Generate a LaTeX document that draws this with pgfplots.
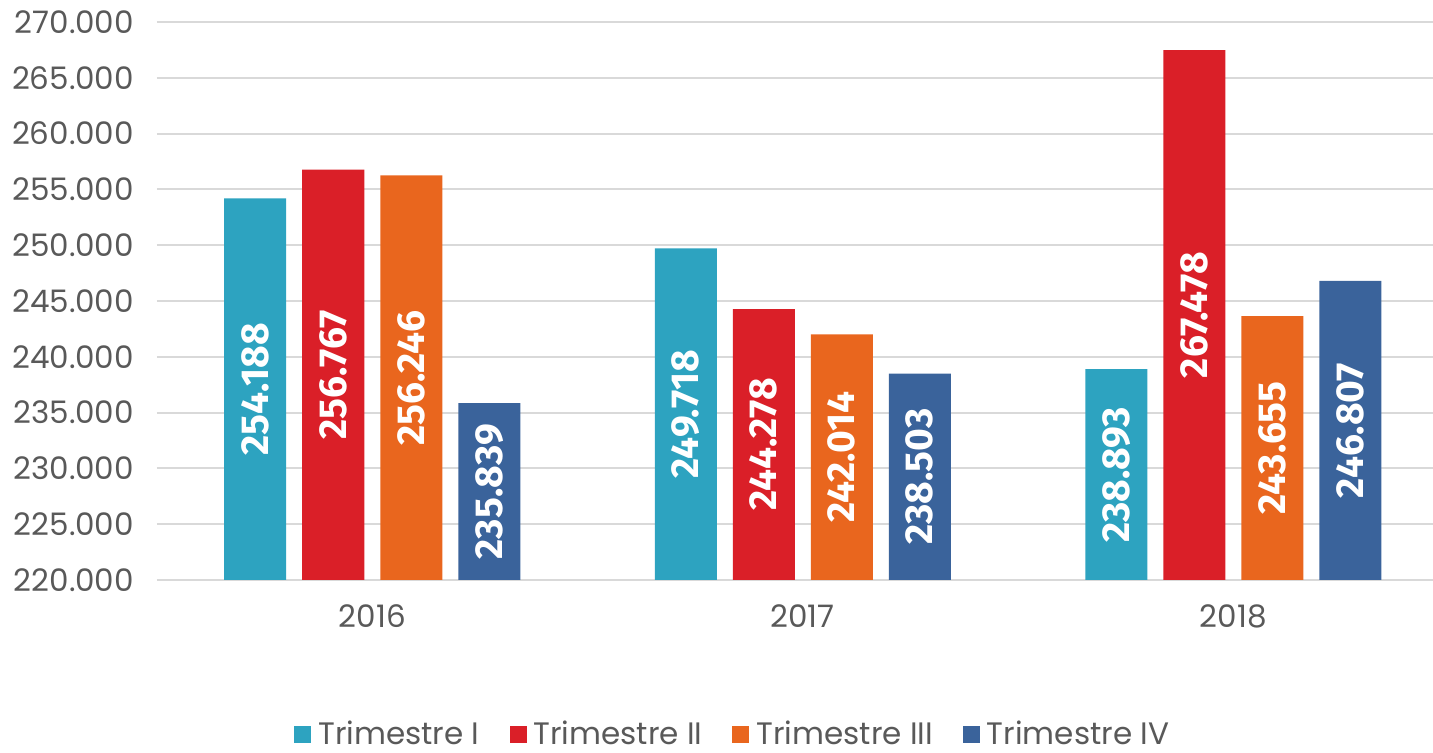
\documentclass[border=0pt]{standalone}
\usepackage{fontspec}
\setmainfont{Poppins}
\newfontfamily\lblfont{Fira Sans}
\usepackage{pgfplots}
\usepackage{pgfplotstable}
\pgfplotsset{compat=1.18}
\definecolor{cI}{HTML}{2DA3C0}
\definecolor{cII}{HTML}{DA1F28}
\definecolor{cIII}{HTML}{E9661E}
\definecolor{cIV}{HTML}{3A639B}
\definecolor{gridgray}{HTML}{D9D9D9}
\definecolor{tickgray}{HTML}{595959}
\pgfplotstableread{
x v l
0 254188 254.188
1 249718 249.718
2 238893 238.893
}\tI
\pgfplotstableread{
x v l
0 256767 256.767
1 244278 244.278
2 267478 267.478
}\tII
\pgfplotstableread{
x v l
0 256246 256.246
1 242014 242.014
2 243655 243.655
}\tIII
\pgfplotstableread{
x v l
0 235839 235.839
1 238503 238.503
2 246807 246.807
}\tIV
\begin{document}
\begin{tikzpicture}
\useasboundingbox (-78.5pt,-86.5pt) rectangle (638pt,290pt);
\begin{axis}[
  at={(0,0)}, anchor=south west,
  scale only axis, width=638pt, height=279pt,
  xmin=-0.5, xmax=2.464, ymin=220000, ymax=270000,
  ytick={220000,225000,...,270000},
  xtick={0,1,2}, xticklabels={2016,2017,2018},
  axis line style={draw=none}, major tick length=0pt,
  ymajorgrids, grid style={color=gridgray, line width=1pt},
  tick label style={font=\fontsize{15.5}{18}\selectfont, text=tickgray},
  yticklabel style={xshift=-8pt},
  xticklabel style={yshift=-9pt},
  scaled y ticks=false,
  yticklabel={\pgfmathprintnumber[fixed,precision=0,1000 sep={.},assume math mode=true]{\tick}},
  legend style={at={(0.452,-0.277)}, anchor=center, draw=none, legend columns=4,
    font=\fontsize{15.5}{18}\selectfont, text=tickgray,
    /tikz/every even column/.append style={column sep=13pt}},
  legend image code/.code={\fill[#1] (0pt,-4.25pt) rectangle (8.5pt,4.25pt); \path (10pt,0pt);},
  every node near coord/.append style={text=white, font=\lblfont\bfseries\fontsize{19.5}{20}\selectfont},
  nodes near coords align={anchor=center},
]
\addplot[ybar, bar width=31pt, bar shift=-58.5pt, fill=cI, draw=none] table[x=x,y=v]{\tI};
\addlegendentry{Trimestre I}
\addplot[ybar, bar width=31pt, bar shift=-19.5pt, fill=cII, draw=none] table[x=x,y=v]{\tII};
\addlegendentry{Trimestre II}
\addplot[ybar, bar width=31pt, bar shift=19.5pt, fill=cIII, draw=none] table[x=x,y=v]{\tIII};
\addlegendentry{Trimestre III}
\addplot[ybar, bar width=31pt, bar shift=58.5pt, fill=cIV, draw=none] table[x=x,y=v]{\tIV};
\addlegendentry{Trimestre IV}

\addplot[forget plot, draw=none, mark=none, nodes near coords, point meta=explicit symbolic,
  nodes near coords style={xshift=-58.5pt, rotate=90, anchor=center}]
  table[x=x, y expr={(\thisrow{v}+220000)/2}, meta=l]{\tI};
\addplot[forget plot, draw=none, mark=none, nodes near coords, point meta=explicit symbolic,
  nodes near coords style={xshift=-19.5pt, rotate=90, anchor=center}]
  table[x=x, y expr={(\thisrow{v}+220000)/2}, meta=l]{\tII};
\addplot[forget plot, draw=none, mark=none, nodes near coords, point meta=explicit symbolic,
  nodes near coords style={xshift=19.5pt, rotate=90, anchor=center}]
  table[x=x, y expr={(\thisrow{v}+220000)/2}, meta=l]{\tIII};
\addplot[forget plot, draw=none, mark=none, nodes near coords, point meta=explicit symbolic,
  nodes near coords style={xshift=58.5pt, rotate=90, anchor=center}]
  table[x=x, y expr={(\thisrow{v}+220000)/2}, meta=l]{\tIV};
\end{axis}
\end{tikzpicture}
\end{document}
